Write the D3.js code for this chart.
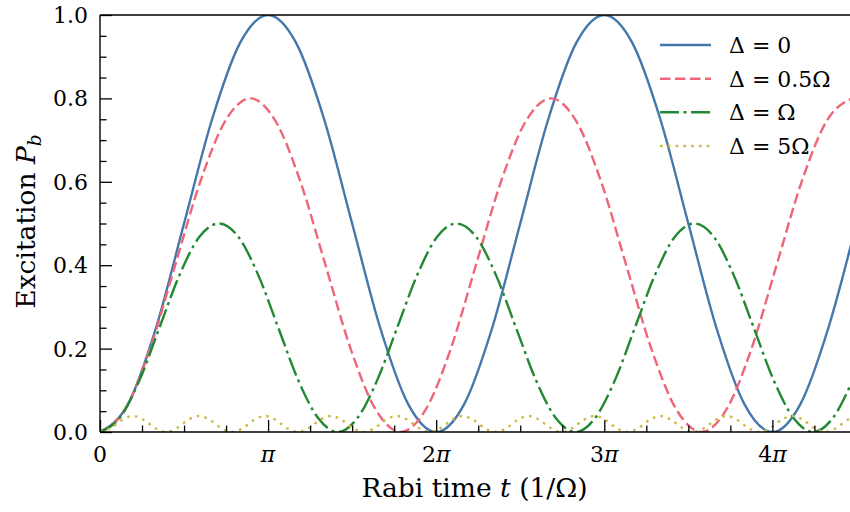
<!DOCTYPE html>
<html><head><meta charset="utf-8">
<script src="https://cdn.jsdelivr.net/npm/d3@7"></script>
<style>
body{margin:0;background:#fff}
svg{display:block}
</style>
</head><body>
<svg id="chart" width="850" height="512" font-family="'DejaVu Serif', serif"></svg>
<script>
// time in units of pi (t/pi), probability P_b
const tBlue = [0,0.1667,0.3333,0.5,0.6667,0.8333,1,1.1667,1.3333,1.5,1.6667,1.8333,2,2.1667,2.3333,2.5,2.6667,2.8333,3,3.1667,3.3333,3.5,3.6667,3.8333,4,4.1667,4.3333,4.5];
const pBlue = [0,0.067,0.25,0.5,0.75,0.933,1,0.933,0.75,0.5,0.25,0.067,0,0.067,0.25,0.5,0.75,0.933,1,0.933,0.75,0.5,0.25,0.067,0,0.067,0.25,0.5];

const tRed = [0,0.1491,0.2981,0.4472,0.5963,0.7454,0.8944,1.0435,1.1926,1.3416,1.4907,1.6398,1.7889,1.9379,2.0870,2.2361,2.3851,2.5342,2.6833,2.8324,2.9814,3.1305,3.2796,3.4286,3.5777,3.7268,3.8758,4.0249,4.1740,4.3231,4.4721];
const pRed = [0,0.054,0.2,0.4,0.6,0.746,0.8,0.746,0.6,0.4,0.2,0.054,0,0.054,0.2,0.4,0.6,0.746,0.8,0.746,0.6,0.4,0.2,0.054,0,0.054,0.2,0.4,0.6,0.746,0.8];

const tGreen = [0,0.1179,0.2357,0.3536,0.4714,0.5893,0.7071,0.8250,0.9428,1.0607,1.1785,1.2964,1.4142,1.5321,1.6499,1.7678,1.8856,2.0035,2.1213,2.2392,2.3570,2.4749,2.5927,2.7106,2.8284,2.9463,3.0641,3.1820,3.2998,3.4177,3.5355,3.6534,3.7712,3.8891,4.0069,4.1248,4.2426,4.3605,4.4783];
const pGreen = [0,0.034,0.125,0.25,0.375,0.467,0.5,0.467,0.375,0.25,0.125,0.034,0,0.034,0.125,0.25,0.375,0.467,0.5,0.467,0.375,0.25,0.125,0.034,0,0.034,0.125,0.25,0.375,0.467,0.5,0.467,0.375,0.25,0.125,0.034,0,0.034,0.125];

const tYellow = [0,0.0654,0.1307,0.1961,0.2615,0.3269,0.3922,0.4576,0.5230,0.5883,0.6537,0.7191,0.7845,0.8498,0.9152,0.9806,1.0460,1.1113,1.1767,1.2421,1.3074,1.3728,1.4382,1.5036,1.5689,1.6343,1.6997,1.7650,1.8304,1.8958,1.9612,2.0265,2.0919,2.1573,2.2226,2.2880,2.3534,2.4188,2.4841,2.5495,2.6149,2.6803,2.7456,2.8110,2.8764,2.9417,3.0071,3.0725,3.1379,3.2032,3.2686,3.3340,3.3993,3.4647,3.5301,3.5955,3.6608,3.7262,3.7916,3.8569,3.9223,3.9877,4.0531,4.1184,4.1838,4.2492,4.3146,4.3799,4.4453,4.5107];
const pYellow = [0,0.0096,0.0288,0.0385,0.0288,0.0096,0,0.0096,0.0288,0.0385,0.0288,0.0096,0,0.0096,0.0288,0.0385,0.0288,0.0096,0,0.0096,0.0288,0.0385,0.0288,0.0096,0,0.0096,0.0288,0.0385,0.0288,0.0096,0,0.0096,0.0288,0.0385,0.0288,0.0096,0,0.0096,0.0288,0.0385,0.0288,0.0096,0,0.0096,0.0288,0.0385,0.0288,0.0096,0,0.0096,0.0288,0.0385,0.0288,0.0096,0,0.0096,0.0288,0.0385,0.0288,0.0096,0,0.0096,0.0288,0.0385,0.0288,0.0096,0,0.0096,0.0288,0.0385];

const seriesNames = ["Δ = 0","Δ = 0.5Ω","Δ = Ω","Δ = 5Ω"];
const xTickValues = [0,1,2,3,4];
const xTickLabels = ["0","π","2π","3π","4π"];
const yTickValues = [0,0.2,0.4,0.6,0.8,1.0];
const yTickLabels = ["0.0","0.2","0.4","0.6","0.8","1.0"];
const xMax = 14/Math.PI; // axis ends at t = 14 (1/Ω)

const colors = ["#4477AA","#EE6677","#228833","#CCBB44"];
const dashes = [null,"10.5,4.5","19,4.5,3,4.5","2.6,5.2"];

const W = 850, H = 512;
const L = 100, R = 849.1, T = 15, B = 432;
const svg = d3.select("#chart");
const x = d3.scaleLinear().domain([0,xMax]).range([L,R]);
const y = d3.scaleLinear().domain([0,1]).range([B,T]);

svg.append("defs").append("clipPath").attr("id","clip")
  .append("rect").attr("x",L).attr("y",T).attr("width",R-L+2).attr("height",B-T);

const series = [
  {t:tBlue,p:pBlue},{t:tRed,p:pRed},{t:tGreen,p:pGreen},{t:tYellow,p:pYellow}
];
const line = d3.line().x(d=>x(d[0])).y(d=>y(d[1])).curve(d3.curveMonotoneX);
const g = svg.append("g").attr("clip-path","url(#clip)");
series.forEach((s,i)=>{
  const pts = s.t.map((v,j)=>[v,s.p[j]]);
  g.append("path").attr("d",line(pts)).attr("fill","none")
    .attr("stroke",colors[i]).attr("stroke-width",2.4)
    .attr("stroke-dasharray",dashes[i]);
});

// axes
const fs = 22, fsLab = 26.5;
const xAxis = d3.axisBottom(x).tickValues(xTickValues).tickSize(-12).tickFormat("");
const xMinor = d3.axisBottom(x).tickValues(d3.range(0,xMax,0.25).filter(v=>Math.abs(v-Math.round(v))>1e-6)).tickSize(-6.5).tickFormat("");
const yAxis = d3.axisLeft(y).tickValues(yTickValues).tickSize(-12).tickFormat("");
const yMinor = d3.axisLeft(y).tickValues(d3.range(0.05,1,0.05).filter(v=>Math.abs(v*5-Math.round(v*5))>1e-6)).tickSize(-6.5).tickFormat("");
[ [xAxis,`translate(0,${B})`],[xMinor,`translate(0,${B})`],[yAxis,`translate(${L},0)`],[yMinor,`translate(${L},0)`] ].forEach(([ax,tr])=>{
  const a = svg.append("g").attr("transform",tr).call(ax);
  a.select(".domain").remove();
  a.selectAll("line").attr("stroke","#000").attr("stroke-width",1.3);
});
// spines
svg.append("line").attr("x1",L).attr("x2",L).attr("y1",T).attr("y2",B).attr("stroke","#000").attr("stroke-width",1.4);
svg.append("line").attr("x1",L).attr("x2",W).attr("y1",B).attr("y2",B).attr("stroke","#000").attr("stroke-width",1.4);
svg.append("line").attr("x1",L).attr("x2",W).attr("y1",T).attr("y2",T).attr("stroke","#000").attr("stroke-width",1.4);

// tick labels
xTickValues.forEach((v,i)=>{
  const lab = xTickLabels[i];
  const t = svg.append("text").attr("x",x(v)).attr("y",462).attr("text-anchor","middle").attr("font-size",fs);
  if(lab.endsWith("π")){
    const num = lab.slice(0,-1);
    if(num) t.append("tspan").text(num);
    t.append("tspan").attr("font-style","italic").text("π");
  } else t.text(lab);
});
yTickValues.forEach((v,i)=>{
  svg.append("text").attr("x",88).attr("y",y(v)).attr("dy","0.36em").attr("text-anchor","end").attr("font-size",fs).text(yTickLabels[i]);
});

// axis labels
const xl = svg.append("text").attr("x",(L+R)/2).attr("y",497).attr("text-anchor","middle").attr("font-size",fsLab);
xl.append("tspan").text("Rabi time ");
xl.append("tspan").attr("font-style","italic").text("t");
xl.append("tspan").text(" (1/Ω)");

const yl = svg.append("text").attr("transform",`translate(35,${(T+B)/2 - 2}) rotate(-90)`).attr("text-anchor","middle").attr("font-size",fsLab);
yl.append("tspan").text("Excitation ");
yl.append("tspan").attr("font-style","italic").text("P");
yl.append("tspan").attr("font-style","italic").attr("font-size",fsLab*0.7).attr("dy",6).text("b");

// legend
const rows = [45,78.7,112.3,146];
seriesNames.forEach((n,i)=>{
  svg.append("line").attr("x1",660).attr("x2",711).attr("y1",rows[i]).attr("y2",rows[i])
    .attr("stroke",colors[i]).attr("stroke-width",2.4).attr("stroke-dasharray",dashes[i]);
  svg.append("text").attr("x",729).attr("y",rows[i]).attr("dy","0.36em").attr("font-size",fs).text(n);
});
</script>
</body></html>
